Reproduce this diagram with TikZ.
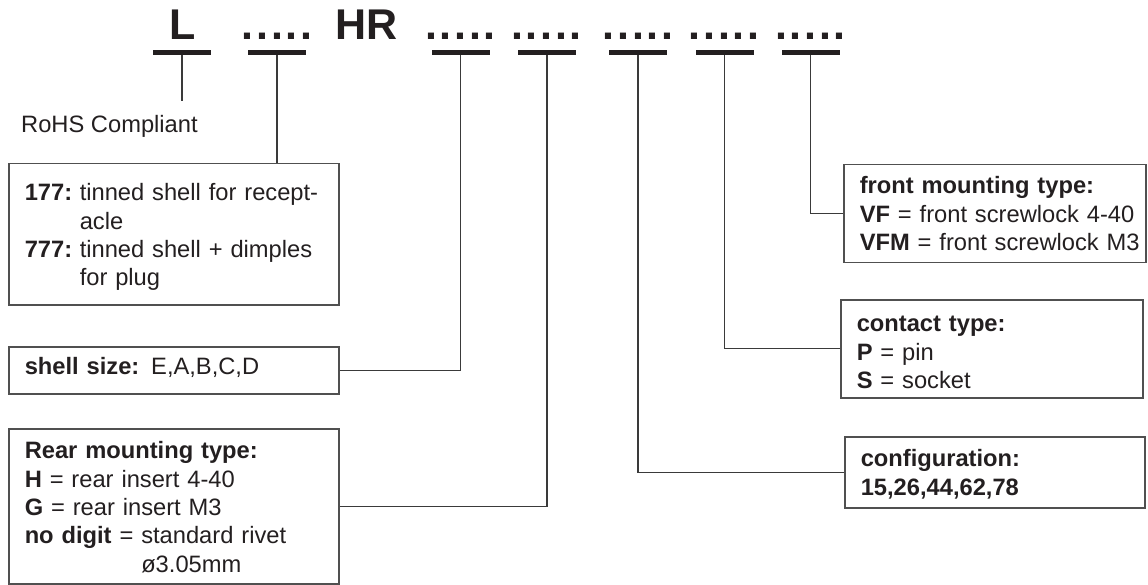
\documentclass[tikz,border=0pt]{standalone}
\usepackage{fontspec}
\setmainfont{Liberation Sans}
\definecolor{txt}{HTML}{231F20}
\definecolor{ln}{HTML}{3A3A3A}
\definecolor{bx}{HTML}{505050}
\newcommand{\fivedots}{.\kern2.6pt.\kern2.6pt.\kern2.6pt.\kern2.6pt.}
\begin{document}
\begin{tikzpicture}[x=1pt,y=-1pt,
  every node/.style={text=txt},
  titlef/.style={font=\fontsize{43}{50}\selectfont\bfseries, inner sep=0pt, anchor=base},
  ubar/.style={fill=txt, draw=none, minimum width=58pt, minimum height=4.6pt, inner sep=0pt},
  stem/.style={draw=ln, line width=1.3pt},
  bodyf/.style={font=\fontsize{23.7}{28.4}\selectfont},
  infobox/.style={bodyf, draw=bx, line width=1.5pt, anchor=north west, inner xsep=16pt, inner ysep=0pt, align=left},
]
\useasboundingbox (0,0) rectangle (1148,585);

% title row
\node[titlef] (tL) at (183,40) {L};
\node[titlef] (d1) at (277,40) {\fivedots};
\node[titlef] (tHR) at (367,40) {HR};
\node[titlef] (d2) at (460.5,40) {\fivedots};
\node[titlef] (d3) at (546.5,40) {\fivedots};
\node[titlef] (d4) at (638,40) {\fivedots};
\node[titlef] (d5) at (724,40) {\fivedots};
\node[titlef] (d6) at (810.5,40) {\fivedots};

\node[ubar] (bar1) at (182,52.7) {};
\node[ubar] (bar2) at (277,52.7) {};
\node[ubar] (bar3) at (460.5,52.7) {};
\node[ubar] (bar4) at (547,52.7) {};
\node[ubar] (bar5) at (638,52.7) {};
\node[ubar] (bar6) at (724.5,52.7) {};
\node[ubar] (bar7) at (810.5,52.7) {};

% labels and boxes
\node[bodyf, anchor=base west, inner sep=0pt] (rohs) at (21,133) {RoHS Compliant};

\node[infobox, text width=298pt] (b177) at (8,163)
  {\rule{0pt}{37pt}\mbox{\makebox[55pt][l]{\bfseries 177:}tinned shell for recept-}\\
   \mbox{\hspace*{55pt}acle}\\
   \mbox{\makebox[55pt][l]{\bfseries 777:}tinned shell + dimples}\\
   \mbox{\hspace*{55pt}for plug}\rule[-19pt]{0pt}{19pt}};

\node[infobox, text width=298pt] (shell) at (8,346)
  {\rule{0pt}{28pt}\mbox{\textbf{shell size:} E,A,B,C,D}\rule[-19pt]{0pt}{19pt}};

\node[infobox, text width=298pt] (rear) at (8,428)
  {\rule{0pt}{30pt}\mbox{\textbf{Rear mounting type:}}\\
   \mbox{\textbf{H} = rear insert 4-40}\\
   \mbox{\textbf{G} = rear insert M3}\\
   \mbox{\textbf{no digit} = standard rivet}\\
   \mbox{\hphantom{\textbf{no digit} = }ø3.05mm}\rule[-11.5pt]{0pt}{11.5pt}};

\node[infobox, text width=270pt] (front) at (843,164)
  {\rule{0pt}{29pt}\mbox{\textbf{front mounting type:}}\\
   \mbox{\textbf{VF} = front screwlock 4-40}\\
   \mbox{\textbf{VFM} = front screwlock M3}\rule[-12pt]{0pt}{12pt}};

\node[infobox, text width=270pt] (contact) at (840,299)
  {\rule{0pt}{32pt}\mbox{\textbf{contact type:}}\\
   \mbox{\textbf{P} = pin}\\
   \mbox{\textbf{S} = socket}\rule[-9.2pt]{0pt}{9.2pt}};

\node[infobox, text width=268pt] (config) at (844,436)
  {\rule{0pt}{30pt}\mbox{\textbf{configuration:}}\\
   \mbox{\textbf{15,26,44,62,78}}\rule[-12.6pt]{0pt}{12.6pt}};

% connectors
\coordinate (rohsTop) at (182,101);
\draw[stem] (bar1.south) -- (rohsTop);
\draw[stem] (bar2.south) -- (bar2.south |- b177.north);
\draw[stem] (bar3.south) |- (shell.east);
\draw[stem] (bar4.south) |- (rear.east);
\draw[stem] (bar5.south) |- (config.west);
\draw[stem] (bar6.south) |- (contact.west);
\draw[stem] (bar7.south) |- (front.west);
\end{tikzpicture}
\end{document}
